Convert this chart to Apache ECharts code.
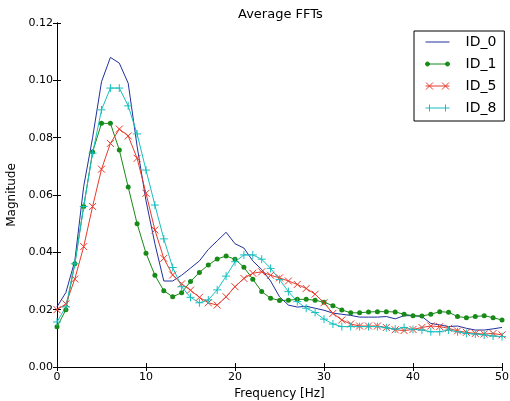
<!DOCTYPE html>
<html>
<head>
<meta charset="utf-8">
<script src="https://cdn.jsdelivr.net/npm/echarts@6/dist/echarts.min.js"></script>
<style>
  html, body { margin: 0; padding: 0; background: #fff; }
  #main { width: 510px; height: 401px; }
</style>
</head>
<body>
<div id="main"></div>
<script>
var freqs = [0, 1, 2, 3, 4, 5, 6, 7, 8, 9, 10, 11, 12, 13, 14, 15, 16, 17, 18, 19, 20,
             21, 22, 23, 24, 25, 26, 27, 28, 29, 30, 31, 32, 33, 34, 35, 36, 37, 38, 39, 40,
             41, 42, 43, 44, 45, 46, 47, 48, 49, 50];

var id0 = [0.021, 0.026, 0.037, 0.063, 0.080, 0.0995, 0.108, 0.106, 0.099, 0.077, 0.058,
           0.043, 0.030, 0.030, 0.032, 0.0345, 0.037, 0.041, 0.044, 0.047, 0.043,
           0.0415, 0.037, 0.034, 0.030, 0.0245, 0.0216, 0.0209, 0.0212, 0.0205, 0.0198,
           0.0188, 0.0184, 0.018, 0.0174, 0.0174, 0.0174, 0.0176, 0.0168, 0.0179, 0.0179,
           0.0176, 0.0152, 0.0147, 0.0141, 0.0143, 0.0135, 0.0129, 0.0129, 0.0133, 0.0138];

var id1 = [0.014, 0.020, 0.036, 0.056, 0.075, 0.085, 0.085, 0.0757, 0.0628, 0.050, 0.0397,
           0.032, 0.0266, 0.0245, 0.0259, 0.0298, 0.033, 0.0356, 0.0377, 0.0387, 0.0376,
           0.0348, 0.0306, 0.0263, 0.024, 0.0232, 0.0233, 0.0236, 0.0236, 0.0233, 0.0226,
           0.0214, 0.0199, 0.0189, 0.0189, 0.0192, 0.0193, 0.0193, 0.0192, 0.0184, 0.0179,
           0.0178, 0.0184, 0.0193, 0.0191, 0.0176, 0.0172, 0.0176, 0.0179, 0.0172, 0.0164];

var id5 = [0.020, 0.022, 0.0307, 0.042, 0.056, 0.069, 0.078, 0.083, 0.0806, 0.0728, 0.0606,
           0.0478, 0.0379, 0.0321, 0.029, 0.0268, 0.0243, 0.0224, 0.0216, 0.0245, 0.028,
           0.0309, 0.0327, 0.0332, 0.032, 0.0311, 0.030, 0.0288, 0.0274, 0.0254, 0.0224,
           0.0187, 0.0164, 0.015, 0.0143, 0.0143, 0.0143, 0.0138, 0.013, 0.0127, 0.0131,
           0.0138, 0.0143, 0.0141, 0.0135, 0.0126, 0.0121, 0.0117, 0.0115, 0.0117, 0.0112];

var id8 = [0.0157, 0.021, 0.036, 0.056, 0.0746, 0.0897, 0.0973, 0.0973, 0.0911, 0.0813, 0.0687,
           0.0565, 0.0447, 0.0347, 0.028, 0.0243, 0.0224, 0.0234, 0.0269, 0.0317, 0.0367,
           0.0391, 0.0391, 0.0376, 0.0344, 0.0305, 0.0263, 0.0228, 0.0205, 0.019, 0.0167,
           0.015, 0.0141, 0.0141, 0.0141, 0.0141, 0.0141, 0.0137, 0.0132, 0.0138, 0.0131,
           0.0129, 0.0123, 0.0123, 0.0129, 0.0123, 0.0117, 0.0115, 0.0112, 0.0108, 0.0106];

var xTicks = [0, 10, 20, 30, 40, 50];
var yTicks = [0.00, 0.02, 0.04, 0.06, 0.08, 0.10, 0.12];

var names = ['ID_0', 'ID_1', 'ID_5', 'ID_8'];
var colors = ['#22309c', '#178a17', '#e8392b', '#19bfbf'];

function pairs(vals) {
    return freqs.map(function (f, i) { return [f, vals[i]]; });
}

var font = 'DejaVu Sans';
var chart = echarts.init(document.getElementById('main'));

// legend icons drawn like matplotlib: line with a marker at each end
var keep = 'M0,0 L0,0 M24,8 L24,8 ';
var icons = [
    'path://' + keep + 'M0,4 L24,4',
    'path://' + keep + 'M2,4 L22,4 M0,4 A2,2 0 1 1 4,4 A2,2 0 1 1 0,4 Z M20,4 A2,2 0 1 1 24,4 A2,2 0 1 1 20,4 Z',
    'path://' + keep + 'M0,4 L24,4 M0.5,0.5 L7.5,7.5 M7.5,0.5 L0.5,7.5 M16.5,0.5 L23.5,7.5 M23.5,0.5 L16.5,7.5',
    'path://' + keep + 'M0,4 L24,4 M4,0.5 L4,7.5 M20,0.5 L20,7.5'
];

var axisCommon = {
    type: 'value',
    splitLine: { show: false },
    axisLine: { show: true, lineStyle: { color: '#000', width: 1 } },
    axisTick: { show: true, inside: true, length: 4, lineStyle: { color: '#000' } }
};

var option = {
    animation: false,
    backgroundColor: '#fff',
    title: {
        text: 'Average FFTs',
        left: 233,
        top: 3,
        textStyle: { fontFamily: font, fontSize: 13, fontWeight: 'normal', color: '#000' }
    },
    legend: {
        orient: 'vertical',
        left: 414,
        top: 31,
        padding: [4, 8, 6, 9],
        itemGap: 8,
        itemWidth: 24,
        itemHeight: 8,
        borderColor: '#000',
        borderWidth: 1,
        backgroundColor: '#fff',
        textStyle: { fontFamily: font, fontSize: 14, color: '#000', padding: [0, 0, 0, 11] },
        data: names.map(function (n, i) {
            return {
                name: n,
                icon: icons[i],
                itemStyle: { color: i === 1 ? colors[i] : 'none', borderColor: colors[i], borderWidth: 1 }
            };
        })
    },
    grid: { left: 57, right: 8, top: 23, bottom: 34, outerBoundsMode: 'none', containLabel: false },
    xAxis: [
        Object.assign({}, axisCommon, {
            min: 0, max: 50, interval: 10,
            name: 'Frequency [Hz]',
            nameLocation: 'middle',
            nameGap: 19,
            nameTextStyle: { fontFamily: font, fontSize: 12, color: '#000' },
            axisLabel: { fontFamily: font, fontSize: 11, color: '#000', margin: 5 }
        }),
        Object.assign({}, axisCommon, {
            position: 'top', min: 0, max: 50, interval: 10,
            axisLabel: { show: false }
        })
    ],
    yAxis: [
        Object.assign({}, axisCommon, {
            min: 0, max: 0.12, interval: 0.02,
            name: 'Magnitude',
            nameLocation: 'middle',
            nameGap: 33,
            nameTextStyle: { fontFamily: font, fontSize: 12, color: '#000' },
            axisLabel: {
                fontFamily: font, fontSize: 11, color: '#000', margin: 4,
                formatter: function (v) { return v.toFixed(2); }
            }
        }),
        Object.assign({}, axisCommon, {
            position: 'right', min: 0, max: 0.12, interval: 0.02,
            axisLabel: { show: false }
        })
    ],
    series: [
        {
            name: names[0], type: 'line', data: pairs(id0),
            symbol: 'none',
            lineStyle: { color: colors[0], width: 1 },
            itemStyle: { color: colors[0] }
        },
        {
            name: names[1], type: 'line', data: pairs(id1),
            symbol: 'circle', symbolSize: 5, showAllSymbol: true,
            lineStyle: { color: colors[1], width: 1 },
            itemStyle: { color: colors[1], borderWidth: 0 }
        },
        {
            name: names[2], type: 'line', data: pairs(id5),
            symbol: 'path://M0,0 L10,10 M10,0 L0,10', symbolSize: 7, showAllSymbol: true,
            lineStyle: { color: colors[2], width: 1 },
            itemStyle: { color: colors[2], borderColor: colors[2], borderWidth: 1 }
        },
        {
            name: names[3], type: 'line', data: pairs(id8),
            symbol: 'path://M5,0 L5,10 M0,5 L10,5', symbolSize: 8, showAllSymbol: true,
            lineStyle: { color: colors[3], width: 1 },
            itemStyle: { color: colors[3], borderColor: colors[3], borderWidth: 1 }
        }
    ]
};

chart.setOption(option);
window.onresize = function () { chart.resize(); };
</script>
</body>
</html>
